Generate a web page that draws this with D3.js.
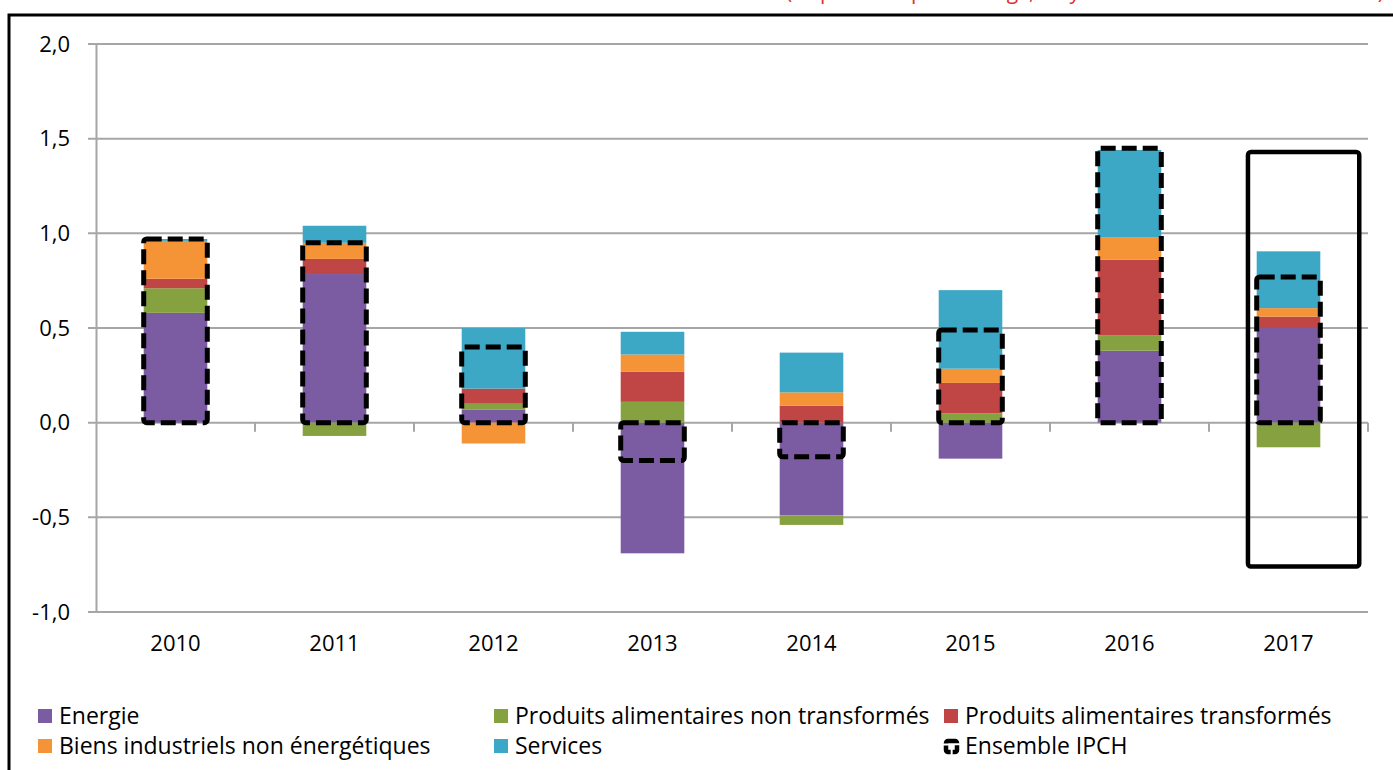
<!DOCTYPE html>
<html>
<head>
<meta charset="utf-8">
<script src="https://cdn.jsdelivr.net/npm/d3@7"></script>
<style>
  body { margin: 0; background: #fff; }
  svg { display: block; font-family: "Open Sans", Lato, sans-serif; }
</style>
</head>
<body>
<svg width="1393" height="770"></svg>
<script>
const years = ['2010', '2011', '2012', '2013', '2014', '2015', '2016', '2017'];
const seriesNames = ['Energie', 'Produits alimentaires non transformés', 'Produits alimentaires transformés',
  'Biens industriels non énergétiques', 'Services'];
const energie      = [0.58, 0.785, 0.07, -0.69, -0.49, -0.19, 0.38, 0.50];
const alimNonTrans = [0.13, -0.07, 0.03, 0.11, -0.05, 0.05, 0.08, -0.13];
const alimTrans    = [0.05, 0.08, 0.08, 0.16, 0.09, 0.16, 0.40, 0.06];
const biensInd     = [0.20, 0.085, -0.11, 0.09, 0.07, 0.075, 0.12, 0.045];
const services     = [0.01, 0.09, 0.32, 0.12, 0.21, 0.415, 0.46, 0.30];
const ensembleIPCH = [0.97, 0.95, 0.40, -0.20, -0.18, 0.49, 1.45, 0.77];
const yTicks = [-1, -0.5, 0, 0.5, 1, 1.5, 2];
const highlight = { year: '2017', top: 1.43, bottom: -0.76 };
const colors = ['#7b5ba2', '#86a13f', '#c04646', '#f59337', '#3da8c5'];

const svg = d3.select('svg');
const width = +svg.attr('width');
const height = +svg.attr('height');

const margin = { top: 44, left: 96, right: 25, bottom: 158 };
const innerWidth = width - margin.left - margin.right;
const innerHeight = height - margin.top - margin.bottom;

const fr = d3.formatLocale({ decimal: ',', thousands: ' ', grouping: [3], currency: ['', ' €'], minus: '-' });
const fmt = fr.format('.1f');

// title line, mostly cut off above the frame
svg.append('text')
  .attr('x', 786).attr('y', -1)
  .attr('textLength', 598).attr('lengthAdjust', 'spacing')
  .attr('fill', '#e0312b').attr('font-size', 21)
  .text('(en points de pourcentage, moyenne annuelle des contributions)');

// frame
svg.append('rect')
  .attr('x', 9).attr('y', 15).attr('width', width + 20).attr('height', height + 20)
  .attr('fill', 'none').attr('stroke', '#000').attr('stroke-width', 3);

const rows = years.map((y, i) => ({
  year: y,
  [seriesNames[0]]: energie[i],
  [seriesNames[1]]: alimNonTrans[i],
  [seriesNames[2]]: alimTrans[i],
  [seriesNames[3]]: biensInd[i],
  [seriesNames[4]]: services[i]
}));

const stacked = d3.stack().keys(seriesNames).offset(d3.stackOffsetDiverging)(rows);

const xScale = d3.scaleBand().domain(years).range([0, innerWidth]);
const yScale = d3.scaleLinear().domain([-1, 2]).range([innerHeight, 0]);
const color = d3.scaleOrdinal().domain(seriesNames).range(colors);

const bw = xScale.bandwidth();
const barW = bw * 0.4;
const barX = d => xScale(d) + (bw - barW) / 2;

const g = svg.append('g').attr('transform', `translate(${margin.left},${margin.top})`);

// grid
g.append('g').selectAll('line').data(yTicks).enter().append('line')
  .attr('x1', -8).attr('x2', innerWidth)
  .attr('y1', d => yScale(d)).attr('y2', d => yScale(d))
  .attr('stroke', '#a6a6a6').attr('stroke-width', 2);

// y axis
const yAxis = g.append('g')
  .call(d3.axisLeft(yScale).tickValues(yTicks).tickFormat(fmt).tickSize(0).tickPadding(26));
yAxis.select('.domain').attr('stroke', '#a6a6a6').attr('stroke-width', 2);
yAxis.selectAll('text').attr('font-size', 22).attr('fill', '#000').attr('font-family', '"Open Sans"');

// category boundary ticks on the zero line
g.append('g').selectAll('line').data(years).enter().append('line')
  .attr('x1', d => xScale(d) + bw).attr('x2', d => xScale(d) + bw)
  .attr('y1', yScale(0)).attr('y2', yScale(0) + 9)
  .attr('stroke', '#a6a6a6').attr('stroke-width', 2);

// x labels
const xAxis = g.append('g')
  .attr('transform', `translate(0,${innerHeight})`)
  .call(d3.axisBottom(xScale).tickSize(0).tickPadding(23));
xAxis.select('.domain').remove();
xAxis.selectAll('text').attr('font-size', 22).attr('fill', '#000').attr('font-family', '"Open Sans"');

// stacked bars
g.append('g').selectAll('g').data(stacked).enter().append('g')
  .attr('fill', d => color(d.key))
  .selectAll('rect').data(d => d).enter().append('rect')
  .attr('x', d => barX(d.data.year))
  .attr('width', barW)
  .attr('y', d => yScale(Math.max(d[0], d[1])))
  .attr('height', d => Math.abs(yScale(d[0]) - yScale(d[1])));

// Ensemble IPCH (dashed outline)
g.append('g').selectAll('rect').data(years).enter().append('rect')
  .attr('x', d => barX(d))
  .attr('width', barW)
  .attr('y', (d, i) => yScale(Math.max(0, ensembleIPCH[i])))
  .attr('height', (d, i) => Math.abs(yScale(ensembleIPCH[i]) - yScale(0)))
  .attr('rx', 3)
  .attr('fill', 'none').attr('stroke', '#000').attr('stroke-width', 5)
  .attr('stroke-dasharray', '15,6').attr('stroke-linejoin', 'round');

// highlight box around last year
g.append('rect')
  .attr('x', xScale(highlight.year) + bw * 0.245)
  .attr('width', bw * 0.70)
  .attr('y', yScale(highlight.top))
  .attr('height', yScale(highlight.bottom) - yScale(highlight.top))
  .attr('rx', 3)
  .attr('fill', 'none').attr('stroke', '#000').attr('stroke-width', 4.5);

// legend
const legendItems = [
  { name: seriesNames[0], col: 0, row: 0 },
  { name: seriesNames[1], col: 1, row: 0 },
  { name: seriesNames[2], col: 2, row: 0 },
  { name: seriesNames[3], col: 0, row: 1 },
  { name: seriesNames[4], col: 1, row: 1 },
  { name: 'Ensemble IPCH', col: 2, row: 1, dashed: true }
];
const colX = [38, 494, 944];
const rowY = [716, 746];

const lg = svg.append('g').selectAll('g').data(legendItems).enter().append('g')
  .attr('transform', d => `translate(${colX[d.col]},${rowY[d.row]})`);

lg.filter(d => !d.dashed).append('rect')
  .attr('x', 0).attr('y', -7).attr('width', 14).attr('height', 14)
  .attr('fill', d => color(d.name));

lg.filter(d => d.dashed).append('rect')
  .attr('x', 2).attr('y', -5).attr('width', 11).attr('height', 11).attr('rx', 2)
  .attr('fill', 'none').attr('stroke', '#000').attr('stroke-width', 4.5)
  .attr('stroke-dasharray', '10,2');

lg.append('text')
  .attr('x', 21).attr('y', 0).attr('dy', '0.36em')
  .attr('font-size', 23).attr('fill', '#000')
  .text(d => d.name);
</script>
</body>
</html>
